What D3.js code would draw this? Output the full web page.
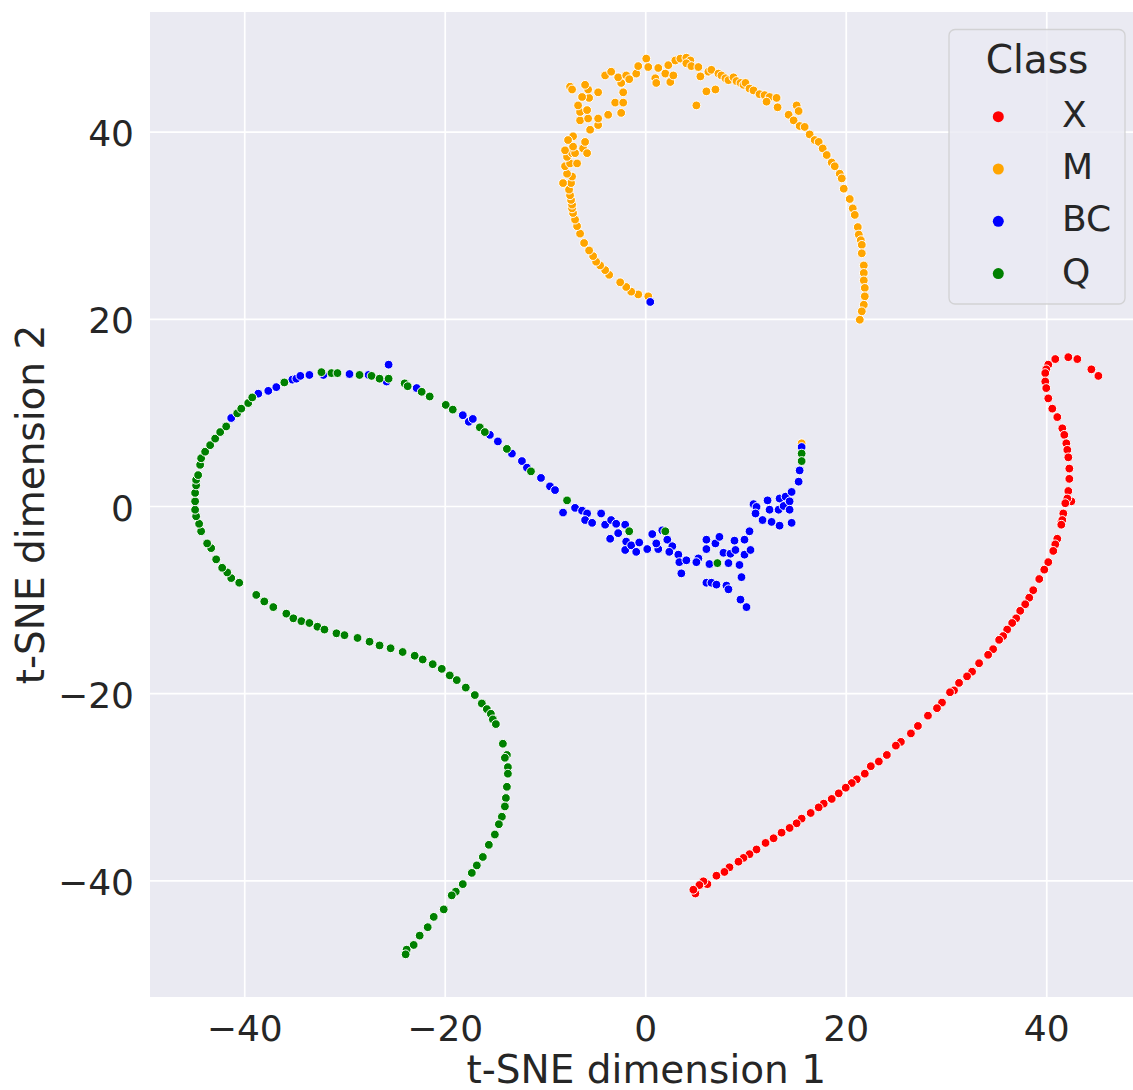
<!DOCTYPE html>
<html>
<head>
<meta charset="utf-8">
<script src="https://cdn.jsdelivr.net/npm/d3@7"></script>
<style>
  body { margin: 0; background: #ffffff; }
  svg { display: block; font-family: "DejaVu Sans", sans-serif; }
</style>
</head>
<body>
<svg id="chart"></svg>
<script>
// legend / hue order
var classNames = ["X", "M", "BC", "Q"];
var classColors = ["red", "orange", "blue", "green"];

var xTicks = [-40, -20, 0, 20, 40];
var yTicks = [-40, -20, 0, 20, 40];

// t-SNE coordinates, [dim1, dim2]
var xPoints = [
  [45.2, 13.9], [44.5, 14.6], [43.1, 15.7], [42.2, 15.9], [40.9, 15.7], [40.2, 15.1], [40.0, 14.6],
  [39.9, 14.2], [39.9, 13.3], [40.0, 12.6], [40.2, 11.5], [40.6, 10.4], [41.1, 9.5], [41.6, 8.3],
  [41.8, 7.6], [42.0, 6.7], [42.1, 6.0], [42.2, 5.2], [42.3, 4.0], [42.3, 2.9], [42.2, 1.6],
  [42.5, 0.5], [42.1, 0.8], [41.9, 0.3], [41.7, -0.8], [41.5, -1.7], [41.6, -1.5], [41.5, -2.0],
  [41.1, -3.5], [40.9, -4.1], [40.7, -4.8], [40.2, -6.0], [39.8, -6.8], [39.3, -7.8], [38.7, -9.0],
  [38.3, -9.8], [37.9, -10.5], [37.4, -11.2], [37.0, -12.0], [36.6, -12.5], [36.1, -13.2],
  [35.7, -13.9], [35.3, -14.3], [34.7, -15.3], [34.2, -15.9], [33.3, -16.8], [32.6, -17.7],
  [32.1, -18.2], [31.3, -18.9], [30.8, -19.7], [30.4, -19.9], [29.6, -21.0], [29.1, -21.6],
  [28.2, -22.4], [27.2, -23.5], [26.5, -24.3], [25.5, -25.2], [25.0, -25.6], [24.1, -26.6],
  [23.3, -27.3], [22.5, -27.8], [21.9, -28.6], [21.1, -29.2], [20.6, -29.6], [20.0, -30.1],
  [19.3, -30.7], [18.6, -31.3], [17.8, -31.8], [17.3, -32.2], [16.5, -32.8], [15.6, -33.4],
  [15.1, -33.9], [14.4, -34.4], [13.6, -34.9], [12.8, -35.5], [12.0, -36.0], [11.1, -36.7],
  [10.4, -37.2], [9.8, -37.6], [9.3, -38.0], [8.4, -38.6], [7.9, -39.1], [7.1, -39.5],
  [6.2, -40.4], [5.8, -40.1], [5.4, -40.5], [5.0, -41.4], [4.8, -41.0]
];

var mPoints = [
  [15.6, 6.7],
  [0.3, 22.4], [-0.7, 22.6], [-1.4, 22.9], [-1.9, 23.4], [-2.5, 23.9], [-3.6, 24.7], [-4.0, 25.2],
  [-4.5, 25.7], [-4.9, 26.1], [-5.2, 26.7], [-5.6, 27.3], [-6.1, 28.1], [-6.5, 29.1], [-6.8, 29.9],
  [-7.0, 30.6], [-7.2, 31.3], [-7.3, 31.8], [-7.3, 32.2], [-7.4, 32.7], [-7.5, 33.2], [-7.6, 33.8],
  [-7.4, 34.5], [-8.2, 34.5], [-7.3, 35.2], [-7.8, 35.5], [-8.0, 36.3], [-7.5, 36.6], [-6.8, 36.6],
  [-7.8, 37.3], [-7.3, 37.7], [-7.0, 37.7], [-8.0, 38.0], [-7.2, 38.4], [-6.2, 38.2], [-5.8, 37.7],
  [-6.0, 38.9], [-7.2, 39.5], [-7.7, 39.1], [-6.5, 41.2], [-5.5, 40.2], [-5.7, 41.4], [-4.7, 40.7],
  [-4.7, 41.4], [-3.7, 41.8], [-6.5, 42.1], [-5.8, 42.3], [-6.7, 42.8], [-5.6, 43.6], [-6.3, 43.7],
  [-5.7, 44.5], [-7.5, 44.8], [-7.3, 44.5], [-6.0, 45.0], [-4.7, 44.2], [-3.0, 43.1], [-2.2, 43.1],
  [-2.4, 42.0], [-2.2, 44.2], [-2.4, 45.2], [-2.7, 45.8], [-4.0, 46.0], [-3.4, 46.4], [-1.9, 46.0],
  [-1.6, 45.6], [-0.9, 46.2], [-0.7, 47.0], [0.1, 47.8], [0.3, 46.9], [1.0, 45.7], [1.1, 45.2],
  [1.3, 46.8], [2.0, 46.2], [2.5, 45.3], [2.8, 46.0], [2.3, 47.1], [3.0, 47.6], [3.5, 47.8],
  [4.1, 47.9], [4.5, 47.6], [4.1, 47.3], [4.6, 47.0], [5.3, 46.9], [5.5, 45.9], [6.3, 46.4],
  [6.6, 46.6], [7.3, 46.2], [7.6, 46.0], [8.0, 45.7], [8.3, 45.5], [8.8, 45.8], [9.1, 45.4],
  [9.5, 45.2], [9.8, 45.0], [10.0, 45.2], [10.4, 44.6], [10.8, 44.4], [11.4, 44.0], [11.9, 43.9],
  [12.4, 43.7], [13.1, 43.6], [12.1, 43.2], [13.2, 42.6], [5.1, 42.8], [6.1, 44.3], [7.0, 44.5],
  [14.3, 41.8], [14.8, 41.2], [15.1, 42.8], [15.3, 42.2], [15.4, 40.6], [15.9, 40.5], [16.4, 39.7],
  [16.9, 39.1], [17.3, 38.9], [17.7, 38.2], [18.1, 37.5], [18.6, 36.7], [18.9, 36.3], [19.4, 35.5],
  [19.6, 35.0], [19.8, 33.9], [20.4, 32.8], [20.7, 31.8], [20.9, 31.1], [21.2, 29.8], [21.3, 29.0],
  [21.5, 28.4], [21.6, 27.9], [21.6, 27.0], [21.8, 25.7], [21.8, 24.9], [21.8, 24.1], [21.9, 23.3],
  [21.9, 22.4], [21.8, 21.5], [21.6, 20.8], [21.4, 19.9]
];

var bcPoints = [
  [0.5, 21.8],
  [-41.3, 9.4], [-38.6, 12.0], [-37.6, 12.3], [-36.8, 12.7], [-35.2, 13.5], [-34.8, 13.6],
  [-34.4, 13.9], [-33.5, 14.0], [-32.1, 14.0], [-29.5, 14.1], [-27.6, 14.0], [-25.6, 15.1],
  [-25.8, 13.3], [-22.8, 12.6], [-18.2, 9.7], [-17.6, 9.0], [-17.2, 9.3],
  [-15.5, 7.6], [-14.7, 6.9], [-13.3, 5.6], [-12.3, 4.8], [-11.8, 4.1], [-10.4, 3.0], [-9.5, 2.1],
  [-9.0, 1.7], [-8.2, -0.7], [-7.0, -0.2], [-6.3, -0.5], [-5.8, -0.8], [-6.0, -1.5], [-5.3, -1.8],
  [-4.4, -0.8], [-4.0, -2.0], [-3.4, -1.5], [-2.9, -1.9], [-3.5, -3.5], [-2.7, -2.9], [-2.0, -2.0],
  [-1.9, -3.8], [-2.0, -4.7], [-1.4, -4.2], [-0.6, -3.9], [-0.9, -4.9], [0.2, -4.6], [0.7, -3.0],
  [1.3, -4.6], [1.1, -4.0], [1.7, -2.6], [2.2, -3.6], [2.7, -4.3], [2.4, -4.9], [3.3, -5.2],
  [3.4, -6.0], [3.6, -7.2], [4.1, -5.8], [5.3, -5.6], [5.1, -6.0], [6.1, -3.6], [6.1, -4.6],
  [6.4, -6.2], [7.0, -4.0], [7.4, -3.3], [7.8, -5.0], [8.3, -6.1], [8.5, -5.1], [8.9, -3.7],
  [9.0, -4.7], [9.4, -6.3], [9.6, -7.6], [9.9, -5.2], [9.9, -3.6], [10.4, -2.7], [10.5, -4.7],
  [6.1, -8.2], [6.6, -8.2], [7.1, -8.4], [8.1, -8.5], [8.3, -8.9], [9.5, -10.0], [10.1, -10.8],
  [10.8, 0.2], [11.1, -0.1], [11.0, -0.8], [11.7, -1.5], [12.2, 0.6], [12.4, -0.4], [12.6, -1.7],
  [13.3, -0.4], [13.4, -2.1], [13.4, 0.8], [14.0, 1.0], [13.8, 0.0], [14.4, 0.5], [14.6, 1.5],
  [14.6, -1.8], [14.4, -0.4], [15.3, 2.6], [15.4, 3.8], [15.6, 6.3]
];

var qPoints = [
  [-40.5, -8.2], [-41.3, -7.7], [-41.7, -7.1], [-42.2, -6.6], [-42.8, -5.7], [-43.3, -4.5],
  [-43.7, -4.0], [-44.3, -2.7], [-44.5, -1.9], [-44.8, -1.1], [-44.9, -0.4], [-44.9, 0.5],
  [-44.9, 1.4], [-44.8, 2.2], [-44.8, 2.8], [-44.6, 3.3], [-44.4, 4.4], [-44.3, 5.1], [-43.9, 5.8],
  [-43.4, 6.5], [-42.9, 7.2], [-42.4, 7.9], [-41.8, 8.5], [-40.7, 9.9], [-40.3, 10.4], [-39.6, 11.0],
  [-39.2, 11.6], [-36.0, 13.2], [-32.3, 14.3], [-31.3, 14.2], [-30.7, 14.2], [-28.5, 14.0],
  [-27.3, 13.9], [-26.5, 13.6], [-25.6, 13.6], [-24.0, 13.1], [-23.7, 12.8], [-22.3, 12.2],
  [-21.5, 11.7], [-19.9, 10.8], [-19.2, 10.3], [-16.5, 8.4], [-16.0, 7.9], [-13.8, 6.1],
  [-11.4, 3.7], [-7.8, 0.6], [-1.6, -2.7], [2.0, -2.7], [7.2, -6.1], [15.6, 5.6], [15.6, 4.8],
  [-38.8, -9.5], [-38.0, -10.2], [-37.1, -10.8], [-35.8, -11.5], [-35.1, -12.0], [-34.3, -12.3],
  [-33.5, -12.5], [-32.7, -12.9], [-32.0, -13.2], [-30.8, -13.6], [-30.0, -13.8], [-28.7, -14.1],
  [-27.5, -14.5], [-26.5, -14.9], [-25.4, -15.2], [-24.2, -15.6], [-23.0, -16.0], [-22.2, -16.4],
  [-21.2, -16.9], [-20.3, -17.4], [-19.5, -18.1], [-18.8, -18.6], [-17.9, -19.4], [-17.0, -20.2],
  [-16.3, -21.1], [-15.8, -21.7], [-15.4, -22.2], [-15.2, -22.8], [-14.9, -23.3], [-14.2, -25.4],
  [-13.8, -26.6], [-14.0, -26.9], [-13.7, -27.9], [-13.7, -28.6], [-13.8, -30.0], [-13.9, -31.2],
  [-14.0, -32.1], [-14.3, -33.2], [-14.6, -34.0], [-15.0, -35.1], [-15.6, -36.2], [-16.2, -37.5],
  [-16.8, -38.4], [-17.3, -39.2], [-18.2, -40.4], [-18.9, -41.2], [-19.3, -41.6], [-20.1, -43.1],
  [-21.1, -43.9], [-21.7, -45.0], [-22.5, -45.9], [-23.1, -46.9], [-23.8, -47.4], [-23.9, -47.9]
];

var seriesPoints = [xPoints, mPoints, bcPoints, qPoints];

var dimensions = {
  width: 1133,
  height: 1090,
  plotLeft: 150,
  plotRight: 1142.5,
  plotTop: 12,
  plotBottom: 997,
};
var textColor = "#262626";

var svg = d3
  .select("#chart")
  .attr("width", dimensions.width)
  .attr("height", dimensions.height);

// set up scales
var xScale = d3
  .scaleLinear()
  .domain([-49.4, 49.6])
  .range([dimensions.plotLeft, dimensions.plotRight]);

var yScale = d3
  .scaleLinear()
  .domain([-52.46, 52.78])
  .range([dimensions.plotBottom, dimensions.plotTop]);

var plotW = dimensions.plotRight - dimensions.plotLeft;
var plotH = dimensions.plotBottom - dimensions.plotTop;

// darkgrid background
svg
  .append("rect")
  .attr("x", dimensions.plotLeft)
  .attr("y", dimensions.plotTop)
  .attr("width", plotW)
  .attr("height", plotH)
  .attr("fill", "#eaeaf2");

// grid lines
var xGrid = svg
  .append("g")
  .attr("transform", "translate(0," + dimensions.plotBottom + ")")
  .call(d3.axisBottom(xScale).tickValues(xTicks).tickSize(-plotH).tickFormat(""));
var yGrid = svg
  .append("g")
  .attr("transform", "translate(" + dimensions.plotLeft + ",0)")
  .call(d3.axisLeft(yScale).tickValues(yTicks).tickSize(-plotW).tickFormat(""));
[xGrid, yGrid].forEach(function (g) {
  g.select(".domain").remove();
  g.selectAll("line").attr("stroke", "#ffffff").attr("stroke-width", 1.7);
});

// tick labels
var xAxis = svg
  .append("g")
  .attr("transform", "translate(0," + dimensions.plotBottom + ")")
  .call(d3.axisBottom(xScale).tickValues(xTicks).tickSize(0).tickPadding(18));
var yAxis = svg
  .append("g")
  .attr("transform", "translate(" + (dimensions.plotLeft - 16) + ",0)")
  .call(d3.axisLeft(yScale).tickValues(yTicks).tickSize(0).tickPadding(0));
[xAxis, yAxis].forEach(function (g) {
  g.select(".domain").remove();
  g.selectAll("text")
    .attr("fill", textColor)
    .style("font-size", "36px")
    .style("font-family", "DejaVu Sans");
});
yAxis.selectAll("text").attr("dy", "0.39em");

// axis labels
svg
  .append("text")
  .attr("x", (dimensions.plotLeft + dimensions.plotRight) / 2)
  .attr("y", 1083)
  .attr("text-anchor", "middle")
  .attr("fill", textColor)
  .style("font-size", "39px")
  .text("t-SNE dimension 1");

svg
  .append("text")
  .attr("transform", "translate(44," + (dimensions.plotTop + plotH / 2) + ") rotate(-90)")
  .attr("text-anchor", "middle")
  .attr("fill", textColor)
  .style("font-size", "39px")
  .text("t-SNE dimension 2");

// scatter points, drawn class by class in hue order
var pointLayer = svg.append("g");
seriesPoints.forEach(function (pts, i) {
  pointLayer
    .append("g")
    .selectAll("circle")
    .data(pts)
    .enter()
    .append("circle")
    .attr("cx", function (d) {
      return xScale(d[0]);
    })
    .attr("cy", function (d) {
      return yScale(d[1]);
    })
    .attr("r", 4.4)
    .attr("fill", classColors[i])
    .attr("stroke", "#ffffff")
    .attr("stroke-width", 1);
});

// legend
var legend = svg.append("g");
legend
  .append("rect")
  .attr("x", 949)
  .attr("y", 29.5)
  .attr("width", 176)
  .attr("height", 274.5)
  .attr("rx", 6)
  .attr("fill", "#eaeaf2")
  .attr("fill-opacity", 0.8)
  .attr("stroke", "#cccccc")
  .attr("stroke-opacity", 0.8)
  .attr("stroke-width", 1.3);

legend
  .append("text")
  .attr("x", 1037)
  .attr("y", 73)
  .attr("text-anchor", "middle")
  .attr("fill", textColor)
  .style("font-size", "39px")
  .text("Class");

var rows = legend
  .selectAll(".row")
  .data(classNames)
  .enter()
  .append("g")
  .attr("class", "row")
  .attr("transform", function (d, i) {
    return "translate(0," + (116.7 + i * 52.3) + ")";
  });
rows
  .append("circle")
  .attr("cx", 998.3)
  .attr("cy", 0)
  .attr("r", 5.5)
  .attr("fill", function (d, i) {
    return classColors[i];
  });
rows
  .append("text")
  .attr("x", 1062)
  .attr("y", 10)
  .attr("fill", textColor)
  .style("font-size", "36px")
  .text(function (d) {
    return d;
  });
</script>
</body>
</html>
